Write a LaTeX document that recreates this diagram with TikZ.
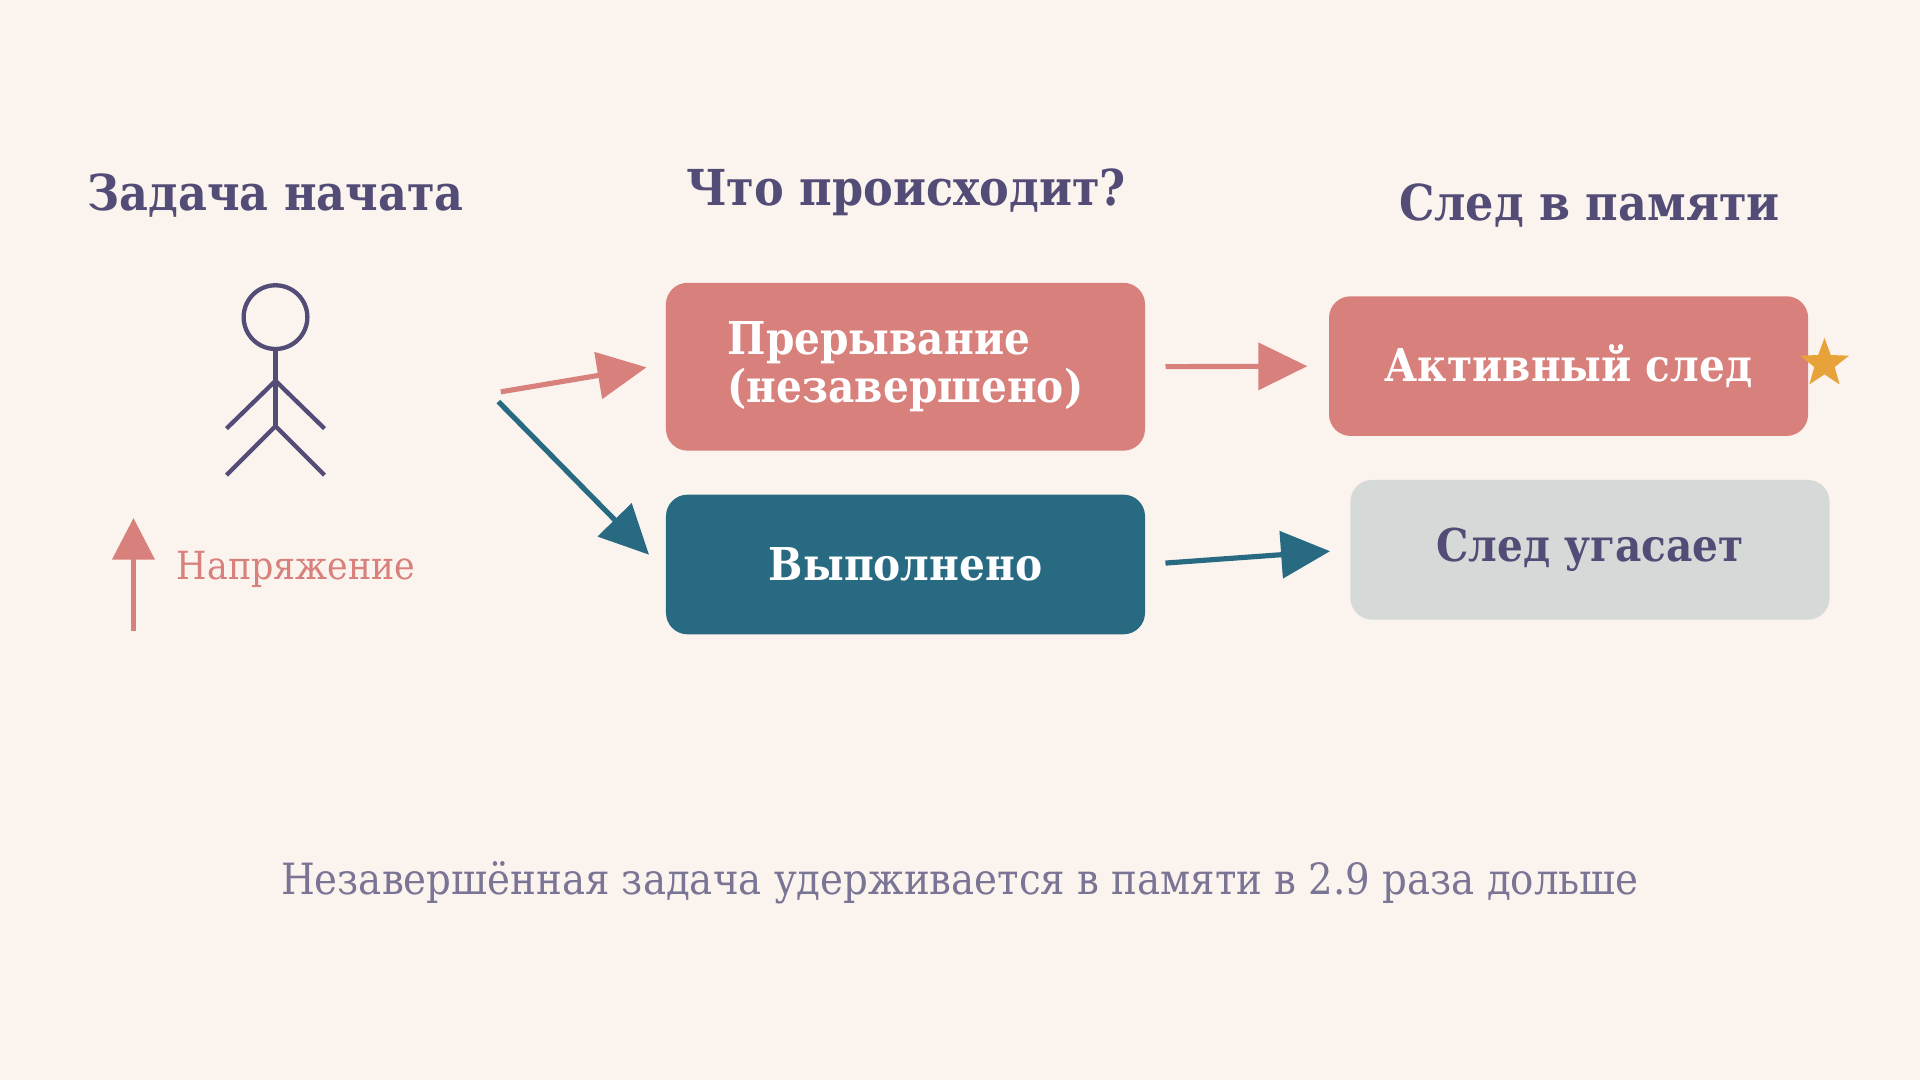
\documentclass[tikz,border=0pt]{standalone}
\usepackage{fontspec}
\setmainfont{DejaVu Serif Condensed}
\usetikzlibrary{arrows.meta,shapes.geometric,positioning}
\definecolor{bgcol}{HTML}{FBF4EE}
\definecolor{rose}{HTML}{D8807C}
\definecolor{petrol}{HTML}{276A82}
\definecolor{ashgrey}{HTML}{D5DAD8}
\definecolor{ink}{HTML}{524C77}
\definecolor{muted}{HTML}{7A7495}
\definecolor{amber}{HTML}{E8A23A}
\tikzset{
  heading/.style={text=ink, font=\bfseries\fontsize{11.5}{14}\selectfont},
  box/.style={rounded corners=5pt, minimum width=3.91cm, minimum height=1.14cm,
    font=\bfseries\fontsize{10.5}{11}\selectfont, text=white},
  flow/.style={line width=1.2pt, -{Triangle[length=0.4cm, width=0.38cm]}},
}
\begin{document}
\begin{tikzpicture}[x=0.01cm, y=-0.01cm]
    \fill[bgcol] (0,0) rectangle (1568,882);
    \useasboundingbox (0,0) rectangle (1568,882);
    % column headings
    \node (hstart) [heading] at (225,160) {Задача начата};
    \node (hwhat) [heading] at (740,157) {Что происходит?};
    \node (htrace) [heading] at (1298,168) {След в памяти};
    % stick figure
    \node (head) [circle, draw=ink, line width=1pt, minimum size=0.52cm] at (225,259) {};
    \coordinate (hip) at (225,348);
    \coordinate (shoulder) at (225,311);
    \draw[ink, line width=1pt] (head.south) -- (hip);
    \draw[ink, line width=1pt] (185,350) -- (shoulder) -- (265,350);
    \draw[ink, line width=1pt] (185,388) -- (hip) -- (265,388);
    % tension
    \coordinate (tbase) at (109,515);
    \coordinate (ttop) at (109,423);
    \draw[rose, line width=1.2pt, -{Triangle[length=0.34cm, width=0.34cm]}] (tbase) -- (ttop);
    \node (tension) [anchor=west, text=rose, font=\fontsize{9}{12}\selectfont] at (132,465) {Напряжение};
    % boxes
    \node (interrupt) [box, fill=rose, minimum height=1.37cm, align=left] at (739.5,299.5)
      {Прерывание\\(незавершено)};
    \node (done) [box, fill=petrol] at (739.5,461) {Выполнено};
    \node (active) [box, fill=rose] at (1281,299) {Активный след};
    \node (fade) [box, fill=ashgrey, text=ink] at (1298.5,449) {След угасает};
    \node (mark) [star, star points=5, star point ratio=2.4, fill=amber, minimum size=0.42cm, inner sep=0pt] at (1490,297) {};
    % arrows
    \coordinate (forka) at (409,320);
    \coordinate (forkb) at (407,328);
    \coordinate (tipa) at (528,300);
    \coordinate (tipb) at (530,453);
    \draw[flow, rose] (forka) -- (tipa);
    \draw[flow, petrol] (forkb) -- (tipb);
    \draw[flow, rose, shorten <=0.16cm, shorten >=0.17cm] (interrupt.east) -- (active.west);
    \draw[flow, petrol, shorten <=0.16cm, shorten >=0.16cm] (done.east) -- (fade.west);
    % footnote
    \node (note) [text=muted, font=\fontsize{10}{12}\selectfont] at (784,721)
      {Незавершённая задача удерживается в памяти в 2.9 раза дольше};
\end{tikzpicture}
\end{document}
